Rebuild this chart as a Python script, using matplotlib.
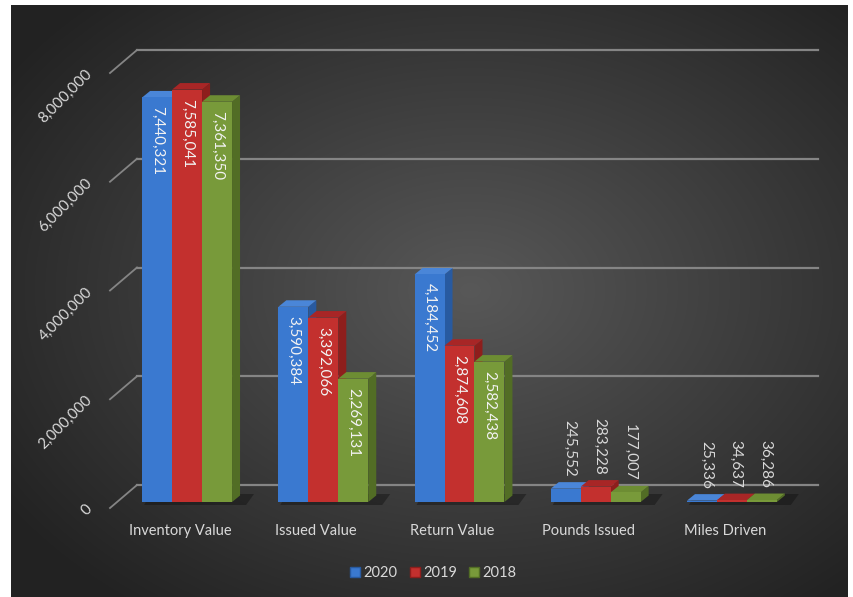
import numpy as np
import matplotlib
matplotlib.use("Agg")
import matplotlib.pyplot as plt
from matplotlib.patches import Polygon
from matplotlib.lines import Line2D

categories = ["Inventory Value", "Issued Value", "Return Value", "Pounds Issued", "Miles Driven"]
years = ["2020", "2019", "2018"]
v2020 = [7440321, 3590384, 4184452, 245552, 25336]
v2019 = [7585041, 3392066, 2874608, 283228, 34637]
v2018 = [7361350, 2269131, 2582438, 177007, 36286]
series = [v2020, v2019, v2018]
yticks = [0, 2000000, 4000000, 6000000, 8000000]

front_c = ["#3a79d0", "#c3302e", "#789a3a"]
side_c = ["#285aa0", "#8e1e1c", "#526d25"]
top_c = ["#4a86d8", "#a82626", "#6d8d33"]

FONT = "Lato"
TXT = "#d9d9d9"
W, H = 854, 597
fig = plt.figure(figsize=(W / 100, H / 100), dpi=100)
fig.patch.set_facecolor("white")

# background with radial gradient
bg = fig.add_axes([11 / W, 0, (848 - 11) / W, (H - 5) / H])
bg.set_axis_off()
yy, xx = np.mgrid[5:597, 11:848]
r = np.sqrt(((xx - 470) / 560.0) ** 2 + ((yy - 290) / 400.0) ** 2)
r = np.clip(r, 0, 1)
c_in = np.array([0x58, 0x58, 0x58]) / 255
c_out = np.array([0x22, 0x22, 0x22]) / 255
img = c_in[None, None, :] * (1 - r[..., None]) + c_out[None, None, :] * r[..., None]
bg.imshow(img, aspect="auto", extent=[0, 1, 0, 1], interpolation="bilinear")
bg.set_xlim(0, 1)
bg.set_ylim(0, 1)

# bar plane axes
left_px, right_px = 119, 800
zero_px, top_px = 502, 67
ax = fig.add_axes([left_px / W, (H - zero_px) / H, (right_px - left_px) / W, (zero_px - top_px) / H])
ax.set_xlim(-0.5, len(categories) - 0.5)
ax.set_ylim(0, 8000000)
ax.set_axis_off()
ax.patch.set_alpha(0)


def shift(x, y, dxp, dyp):
    X, Y = ax.transData.transform((x, y))
    return ax.transData.inverted().transform((X + dxp, Y + dyp))


# back wall gridlines & left wall diagonals
BX, BY = 18, 17     # back offset (px)
FX, FY = -9, -6     # front offset (px)
for v in yticks:
    a = shift(-0.5, v, BX, BY)
    b = shift(len(categories) - 0.5, v, BX, BY)
    ax.plot([a[0], b[0]], [a[1], b[1]], color="#858585", lw=1.6, clip_on=False, zorder=1)
    f = shift(-0.5, v, FX, FY)
    ax.plot([f[0], a[0]], [f[1], a[1]], color="#858585", lw=1.3, clip_on=False, zorder=1)
    t = shift(-0.5, v, FX - 20, FY + 1)
    ax.text(t[0], t[1], f"{v:,}", rotation=45, rotation_mode="anchor", ha="right", va="center",
            color=TXT, fontsize=11, family=FONT)

# bars
bw = 0.22
DX, DY = 8, 6.5
offsets = [-bw, 0, bw]
xs = np.arange(len(categories))

# floor shadows behind each group
for i in range(len(categories)):
    xl = xs[i] + offsets[0] - bw / 2
    xr = xs[i] + offsets[2] + bw / 2
    s0 = tuple(shift(xl, 0, 2, -3))
    s1 = tuple(shift(xr, 0, 14, -3))
    s2 = tuple(shift(xr, 0, 22, 8))
    s3 = tuple(shift(xl, 0, 8, 8))
    ax.add_patch(Polygon([s0, s1, s2, s3], closed=True, facecolor="#111111", alpha=0.45,
                         edgecolor="none", zorder=2, clip_on=False))

for si, vals in enumerate(series):
    for i, v in enumerate(vals):
        xc = xs[i] + offsets[si]
        xl, xr = xc - bw / 2, xc + bw / 2
        z = 3 + si
        p0 = (xr, 0)
        p1 = (xr, v)
        p2 = tuple(shift(xr, v, DX, DY))
        p3 = tuple(shift(xr, 0, DX, DY))
        ax.add_patch(Polygon([p0, p1, p2, p3], closed=True, facecolor=side_c[si], edgecolor="none",
                             zorder=z, clip_on=False))
        q2 = tuple(shift(xr, v, DX, DY))
        q3 = tuple(shift(xl, v, DX, DY))
        ax.add_patch(Polygon([(xl, v), (xr, v), q2, q3], closed=True, facecolor=top_c[si],
                             edgecolor="none", zorder=z, clip_on=False))
        ax.bar(xc, v, width=bw, color=front_c[si], zorder=z, linewidth=0)

# data labels
for si, vals in enumerate(series):
    for i, v in enumerate(vals):
        xc = xs[i] + offsets[si]
        hpx = ax.transData.transform((0, v))[1] - ax.transData.transform((0, 0))[1]
        if hpx > 90:
            p = shift(xc, v, 0, -9)
            ax.text(p[0], p[1], f"{v:,}", rotation=270, ha="center", va="top", color="#f2f2f2",
                    fontsize=11, family=FONT, zorder=10)
        else:
            p = shift(xc, v, 4, 12)
            ax.text(p[0], p[1], f"{v:,}", rotation=270, ha="center", va="bottom", color=TXT,
                    fontsize=11, family=FONT, zorder=10)

# category labels
for i, c in enumerate(categories):
    p = shift(xs[i], 0, -7, -29)
    ax.text(p[0], p[1], c, ha="center", va="center", color=TXT, fontsize=10.5, family=FONT)

# legend
handles = [Line2D([0], [0], marker="s", linestyle="none", markersize=6.5, markerfacecolor=front_c[k],
                  markeredgecolor=side_c[k]) for k in range(3)]
leg = fig.legend(handles, years, loc="center", bbox_to_anchor=(433 / W, (H - 573) / H), ncol=3,
                 frameon=False, handletextpad=0.15, columnspacing=0.8, handlelength=0.8,
                 prop={"family": FONT, "size": 10.5})
for t in leg.get_texts():
    t.set_color(TXT)

fig.savefig("out.png", dpi=100)
